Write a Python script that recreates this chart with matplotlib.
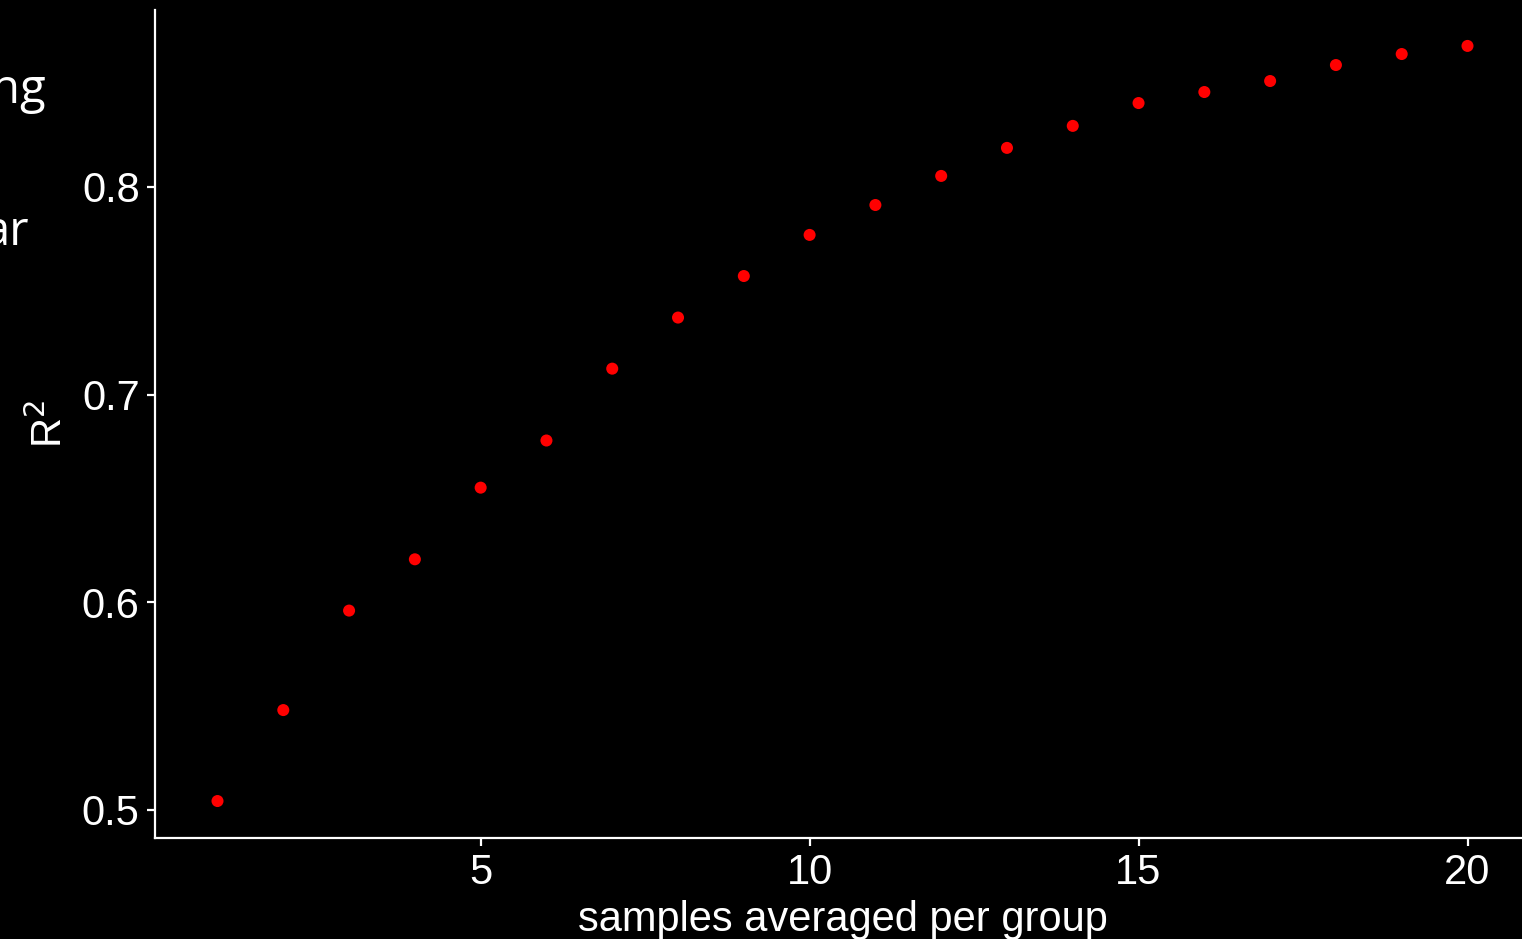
import numpy as np
import matplotlib.pyplot as plt

plt.rcParams['font.family'] = ['Liberation Sans', 'DejaVu Sans']

samples = np.arange(1, 21)
r2 = [0.5043, 0.5481, 0.5960, 0.6207, 0.6552, 0.6779, 0.7125, 0.7371, 0.7571, 0.7769,
      0.7913, 0.8053, 0.8188, 0.8294, 0.8404, 0.8457, 0.8510, 0.8587, 0.8640, 0.8679]
y_ticks = [0.5, 0.6, 0.7, 0.8]
x_ticks = [5, 10, 15, 20]

W, H = 1522, 939
fig = plt.figure(figsize=(W / 100, H / 100), dpi=100, facecolor='black')
# axes box in pixels: left 155, right ~1530 (clipped), top 10, bottom 838
ax = fig.add_axes([155 / W, (H - 838) / H, (1530 - 155) / W, (838 - 10) / H])
ax.set_facecolor('black')

ax.scatter(samples, r2, s=75, color='red', edgecolors='none', zorder=3)

ax.set_xlim(0.05, 20.95)
ax.set_ylim(0.4865, 0.8852)
ax.set_xticks(x_ticks)
ax.set_yticks(y_ticks)
ax.set_yticklabels(['0.5', '0.6', '0.7', '0.8'])

for side in ['top', 'right']:
    ax.spines[side].set_visible(False)
for side in ['left', 'bottom']:
    ax.spines[side].set_color('white')
    ax.spines[side].set_linewidth(1.6)

ax.tick_params(colors='white', labelsize=30, length=6, width=1.6, direction='out', pad=5)
ax.set_xlabel('samples averaged per group', color='white', fontsize=30, labelpad=5)
ax.set_ylabel('R$^2$', color='white', fontsize=30, labelpad=8)

# clipped text from the neighbouring slide
fig.text(46 / W, 1 - 103 / H, 'ng', color='white', fontsize=34, family='Open Sans',
         ha='right', va='baseline')
fig.text(29 / W, 1 - 245 / H, 'ar', color='white', fontsize=34, family='Open Sans',
         ha='right', va='baseline')

plt.savefig('out.png', dpi=100, facecolor='black')
